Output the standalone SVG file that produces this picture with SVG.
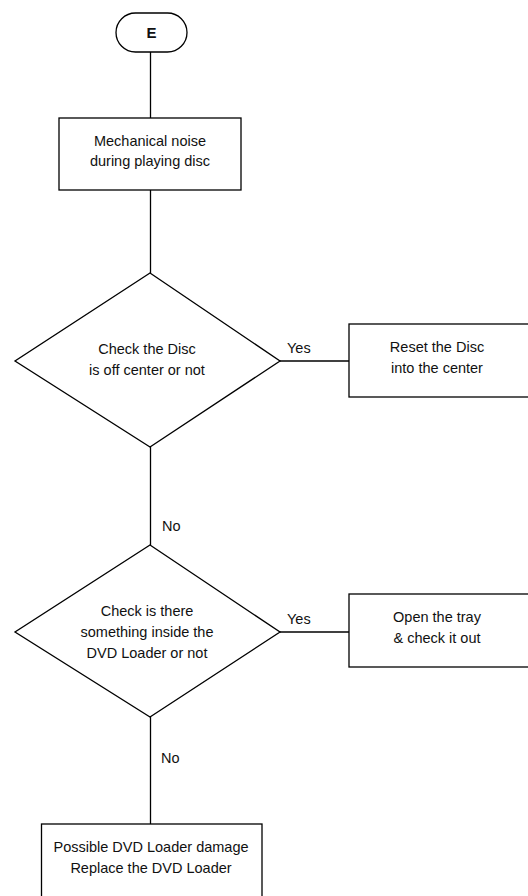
<svg xmlns="http://www.w3.org/2000/svg" width="528" height="896" viewBox="0 0 528 896">
<style>
.shape{fill:#fff;stroke:#000;stroke-width:1.3}
.conn line{stroke:#000;stroke-width:1.3}
text{font-family:"Liberation Sans",Arial,sans-serif;font-size:14.5px;fill:#111}
.c{text-anchor:middle}
.b{font-weight:bold;font-size:15px}
</style>
<rect width="528" height="896" fill="#fff"/>
<g id="connectors" class="conn">
<line x1="150.5" y1="52" x2="150.5" y2="118"/>
<line x1="150.5" y1="190" x2="150.5" y2="273"/>
<line x1="280" y1="361" x2="349" y2="361"/>
<line x1="150.5" y1="447" x2="150.5" y2="545"/>
<line x1="280" y1="632" x2="349" y2="632"/>
<line x1="150.5" y1="717" x2="150.5" y2="824"/>
<text x="287" y="353">Yes</text>
<text x="162" y="531">No</text>
<text x="287" y="624">Yes</text>
<text x="161" y="763">No</text>
</g>
<g id="start">
<rect class="shape" x="116" y="13" width="71" height="39" rx="19.5"/>
<text class="c b" x="151.5" y="37.5">E</text>
</g>
<g id="noise">
<rect class="shape" x="59" y="118" width="182" height="72"/>
<text class="c" x="150" y="146">Mechanical noise</text>
<text class="c" x="150" y="166">during playing disc</text>
</g>
<g id="check-disc">
<polygon class="shape" points="150,273 280,361 150,447 15,361"/>
<text class="c" x="147" y="354">Check the Disc</text>
<text class="c" x="147" y="375">is off center or not</text>
</g>
<g id="reset-disc">
<rect class="shape" x="349" y="324" width="185" height="73"/>
<text class="c" x="437" y="352">Reset the Disc</text>
<text class="c" x="437" y="373">into the center</text>
</g>
<g id="check-loader">
<polygon class="shape" points="150,545 280,632 150,717 15,632"/>
<text class="c" x="147" y="616">Check is there</text>
<text class="c" x="147" y="637">something inside the</text>
<text class="c" x="147" y="658">DVD Loader or not</text>
</g>
<g id="open-tray">
<rect class="shape" x="349" y="594" width="185" height="73"/>
<text class="c" x="437" y="622">Open the tray</text>
<text class="c" x="437" y="643">&amp; check it out</text>
</g>
<g id="replace-loader">
<rect class="shape" x="41.5" y="824" width="220.5" height="80"/>
<text class="c" x="151" y="852">Possible DVD Loader damage</text>
<text class="c" x="151" y="873">Replace the DVD Loader</text>
</g>
</svg>
